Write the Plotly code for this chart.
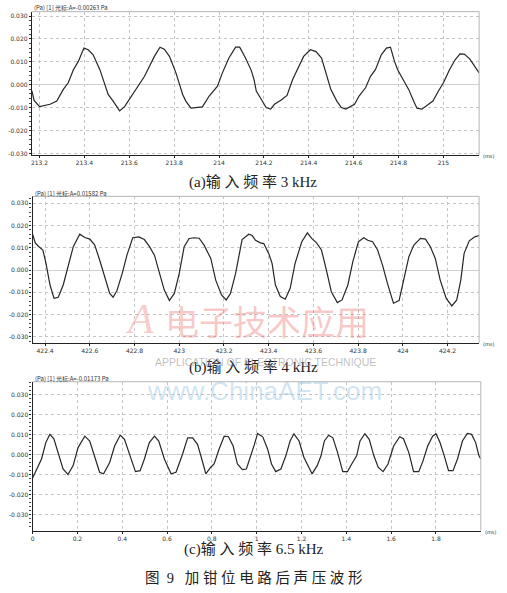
import plotly.graph_objects as go

W, H = 507, 593
NB = "\u00a0"

# ---------------- data (time in ms, sound pressure in Pa) ----------------
ta = [213.166, 213.176, 213.200, 213.247, 213.277, 213.306, 213.328, 213.351, 213.373, 213.398,
      213.417, 213.439, 213.469, 213.491, 213.506, 213.528, 213.557, 213.579, 213.601, 213.631,
      213.668, 213.690, 213.712, 213.737, 213.756, 213.779, 213.808, 213.838, 213.852, 213.875,
      213.926, 213.956, 213.993, 214.015, 214.044, 214.074, 214.092, 214.118, 214.144,
      214.156, 214.166, 214.188, 214.210, 214.230, 214.247, 214.277, 214.303, 214.328, 214.351,
      214.377, 214.407, 214.432, 214.457, 214.476, 214.498, 214.525, 214.545, 214.565, 214.587,
      214.604, 214.624, 214.653, 214.675, 214.697, 214.723, 214.746, 214.764, 214.782, 214.796,
      214.820, 214.845, 214.867, 214.882, 214.904, 214.926, 214.953, 214.978, 215.000, 215.027,
      215.052, 215.074, 215.093, 215.118, 215.140, 215.159]
va = [-0.0026, -0.0068, -0.0095, -0.0085, -0.0071, -0.0020, 0.0009, 0.0066, 0.0102, 0.0160,
      0.0153, 0.0131, 0.0066, 0.0001, -0.0042, -0.0071, -0.0114, -0.0095, -0.0063, -0.0020,
      0.0037, 0.0081, 0.0124, 0.0164, 0.0155, 0.0124, 0.0052, -0.0042, -0.0071, -0.0102,
      -0.0096, -0.0049, -0.0006, 0.0052, 0.0117, 0.0164, 0.0164, 0.0117, 0.0062,
      0.0023, -0.0027, -0.0063, -0.0099, -0.0106, -0.0085, -0.0066, -0.0046, 0.0023, 0.0073,
      0.0124, 0.0153, 0.0145, 0.0117, 0.0052, -0.0020, -0.0071, -0.0099, -0.0106, -0.0095,
      -0.0085, -0.0049, -0.0013, 0.0037, 0.0066, 0.0131, 0.0160, 0.0164, 0.0102, 0.0066,
      0.0026, -0.0020, -0.0071, -0.0102, -0.0106, -0.0089, -0.0071, -0.0027, 0.0009, 0.0066,
      0.0109, 0.0135, 0.0134, 0.0112, 0.0081, 0.0052]

tb = [422.344, 422.356, 422.370, 422.390, 422.404, 422.422, 422.440, 422.459, 422.481, 422.504,
      422.526, 422.555, 422.578, 422.600, 422.622, 422.644, 422.667, 422.689, 422.704, 422.721,
      422.745, 422.766, 422.792, 422.819, 422.844, 422.867, 422.889, 422.911, 422.933, 422.956,
      422.978, 423.000, 423.022, 423.044, 423.067, 423.089, 423.111, 423.141, 423.163, 423.189,
      423.210, 423.229, 423.252, 423.281, 423.311, 423.326, 423.341, 423.363, 423.378, 423.400,
      423.415, 423.430, 423.452, 423.474, 423.496, 423.518, 423.548, 423.573, 423.592, 423.614,
      423.636, 423.658, 423.680, 423.707, 423.728, 423.754, 423.776, 423.801, 423.825, 423.843,
      423.865, 423.887, 423.909, 423.931, 423.958, 423.983, 424.005, 424.027, 424.049, 424.079,
      424.101, 424.123, 424.145, 424.167, 424.194, 424.219, 424.241, 424.259, 424.274, 424.297,
      424.322, 424.341]
vb = [0.0161, 0.0122, 0.0107, 0.0090, 0.0030, -0.0067, -0.0127, -0.0122, -0.0067, 0.0022,
      0.0105, 0.0161, 0.0146, 0.0139, 0.0112, 0.0045, -0.0037, -0.0105, -0.0122, -0.0093,
      -0.0015, 0.0067, 0.0145, 0.0149, 0.0137, 0.0105, 0.0067, -0.0015, -0.0090, -0.0137,
      -0.0105, -0.0015, 0.0105, 0.0142, 0.0145, 0.0143, 0.0112, 0.0052, -0.0045, -0.0112,
      -0.0134, -0.0105, -0.0015, 0.0137, 0.0161, 0.0155, 0.0134, 0.0122, 0.0119, 0.0075,
      0.0030, -0.0067, -0.0119, -0.0131, -0.0082, 0.0030, 0.0127, 0.0167, 0.0142, 0.0122,
      0.0090, 0.0000, -0.0097, -0.0146, -0.0134, -0.0067, 0.0037, 0.0127, 0.0145, 0.0134,
      0.0127, 0.0090, 0.0022, -0.0060, -0.0149, -0.0137, -0.0037, 0.0060, 0.0112, 0.0142,
      0.0139, 0.0105, 0.0052, -0.0045, -0.0127, -0.0161, -0.0134, -0.0045, 0.0075, 0.0131,
      0.0149, 0.0155]

tc = [0.000, 0.018, 0.040, 0.059, 0.077, 0.095, 0.114, 0.136, 0.158, 0.181,
      0.203, 0.233, 0.255, 0.277, 0.299, 0.317, 0.344, 0.366, 0.391, 0.410,
      0.432, 0.459, 0.480, 0.499, 0.521, 0.544, 0.563, 0.588, 0.618, 0.640,
      0.669, 0.692, 0.714, 0.736, 0.755, 0.773, 0.795, 0.810, 0.832, 0.855,
      0.874, 0.895, 0.914, 0.936, 0.954, 0.975, 0.990, 1.004, 1.027, 1.049,
      1.066, 1.085, 1.108, 1.130, 1.149, 1.166, 1.189, 1.211, 1.247, 1.270,
      1.287, 1.302, 1.321, 1.340, 1.361, 1.384, 1.405, 1.424, 1.446, 1.461,
      1.483, 1.502, 1.523, 1.542, 1.564, 1.586, 1.611, 1.638, 1.655, 1.679,
      1.700, 1.723, 1.741, 1.763, 1.785, 1.800, 1.818, 1.837, 1.856, 1.876,
      1.896, 1.918, 1.940, 1.959, 1.977, 1.991, 2.000]
vc = [-0.0116, -0.0071, -0.0021, 0.0061, 0.0102, 0.0080, 0.0011, -0.0071, -0.0098, -0.0054,
      0.0036, 0.0093, 0.0069, -0.0005, -0.0087, -0.0095, -0.0038, 0.0044, 0.0098, 0.0077,
      0.0003, -0.0084, -0.0079, -0.0021, 0.0061, 0.0093, 0.0069, -0.0021, -0.0095, -0.0087,
      0.0003, 0.0085, 0.0085, 0.0052, -0.0021, -0.0095, -0.0062, -0.0046, 0.0028, 0.0093,
      0.0090, 0.0044, -0.0046, -0.0074, -0.0071, -0.0005, 0.0052, 0.0107, 0.0090, 0.0028,
      -0.0046, -0.0084, -0.0071, -0.0005, 0.0069, 0.0105, 0.0069, -0.0013, -0.0095, -0.0054,
      -0.0005, 0.0069, 0.0098, 0.0085, 0.0011, -0.0084, -0.0084, -0.0046, -0.0005, 0.0069,
      0.0105, 0.0077, -0.0005, -0.0062, -0.0084, -0.0046, 0.0044, 0.0090, 0.0080, 0.0011,
      -0.0084, -0.0084, -0.0034, 0.0044, 0.0093, 0.0105, 0.0061, -0.0005, -0.0079, -0.0079,
      -0.0021, 0.0069, 0.0107, 0.0102, 0.0061, -0.0002, -0.0021]

xticks_a = [213.2, 213.4, 213.6, 213.8, 214, 214.2, 214.4, 214.6, 214.8, 215]
xticks_b = [422.4, 422.6, 422.8, 423, 423.2, 423.4, 423.6, 423.8, 424, 424.2]
xticks_c = [0, 0.2, 0.4, 0.6, 0.8, 1, 1.2, 1.4, 1.6, 1.8]
yticks = [0.03, 0.02, 0.01, 0.0, -0.01, -0.02, -0.03]
ytick_text = ["0.030", "0.020", "0.010", "0.000", "-0.010", "-0.020", "-0.030"]

headers = ["(Pa) [1] 光标:A=-0.00263 Pa", "(Pa) [1] 光标:A=0.01582 Pa", "(Pa) [1] 光标:A=-0.01173 Pa"]
captions = ["(a)" + NB.join("输入频率") + NB + "3 kHz",
            "(b)" + NB.join("输入频率") + NB + "4 kHz",
            "(c)" + NB.join("输入频率") + NB + "6.5 kHz"]
title_text = "图" + NB * 2 + "9" + NB * 3 + NB.join("加钳位电路后声压波形")

# ---------------- layout geometry (pixels) ----------------
panels = [
    dict(t=ta, v=va, xt=xticks_a, xr=[213.166, 215.159], yr=[-0.0306, 0.0319],
         px=(30, 479), py=(11.7, 155.5), head_y=7.5, cap_y=183),
    dict(t=tb, v=vb, xt=xticks_b, xr=[422.344, 424.341], yr=[-0.0328, 0.0331],
         px=(30.7, 479), py=(197, 344.3), head_y=194, cap_y=369),
    dict(t=tc, v=vc, xt=xticks_c, xr=[0, 2.0], yr=[-0.0378, 0.0365],
         px=(30.7, 480.7), py=(383, 532.3), head_y=380, cap_y=551),
]

fig = go.Figure()
layout = dict(width=W, height=H, margin=dict(l=0, r=0, t=0, b=0),
              paper_bgcolor="white", plot_bgcolor="white", showlegend=False,
              annotations=[], shapes=[])

tickfont = dict(size=6, color="#333", family="DejaVu Sans")
grid = dict(showgrid=True, gridcolor="#c4c4c4", gridwidth=1, griddash="dot")
capfont = dict(size=15, color="#222", family="Liberation Serif, Noto Sans CJK SC")

for i, p in enumerate(panels):
    n = "" if i == 0 else str(i + 1)
    xa, ya = "x" + n, "y" + n
    fig.add_trace(go.Scatter(x=p["t"], y=p["v"], mode="lines", xaxis=xa, yaxis=ya,
                             line=dict(color="#262626", width=1.2)))
    xd = [p["px"][0] / W, p["px"][1] / W]
    yd = [1 - p["py"][1] / H, 1 - p["py"][0] / H]
    layout["xaxis" + n] = dict(domain=xd, range=p["xr"], anchor=ya, tickmode="array",
                               tickvals=p["xt"], ticktext=[f"{v:g}" for v in p["xt"]],
                               showline=True, linecolor="#222", linewidth=1,
                               ticks="outside", ticklen=2, tickcolor="#222",
                               tickfont=tickfont, zeroline=False, **grid)
    layout["yaxis" + n] = dict(domain=yd, range=p["yr"], anchor=xa, tickmode="array",
                               tickvals=yticks, ticktext=ytick_text,
                               showline=True, linecolor="#222", linewidth=1.2,
                               ticks="outside", ticklen=2, tickcolor="#222",
                               minor=dict(ticks="outside", ticklen=2, dtick=0.002,
                                          tickcolor="#444", showgrid=False),
                               tickfont=tickfont, zeroline=True, zerolinecolor="#cfcfcf",
                               zerolinewidth=1, **grid)
    layout["shapes"].append(dict(type="line", xref=xa + " domain", yref=ya + " domain",
                                 x0=0, x1=1, y0=1, y1=1, line=dict(color="#b5b5b5", width=1)))
    layout["shapes"].append(dict(type="line", xref=xa + " domain", yref=ya + " domain",
                                 x0=1, x1=1, y0=0, y1=1, line=dict(color="#b5b5b5", width=1)))
    layout["annotations"].append(dict(text=headers[i], xref="paper", yref="paper",
                                      x=p["px"][0] / W, y=1 - p["head_y"] / H,
                                      xanchor="left", yanchor="middle", showarrow=False,
                                      font=dict(size=6, color="#333", family="Noto Sans CJK SC")))
    layout["annotations"].append(dict(text="(ms)", xref="paper", yref="paper",
                                      x=(p["px"][1] + 2) / W, y=1 - (p["py"][1] + 1) / H,
                                      xanchor="left", yanchor="middle", showarrow=False,
                                      font=dict(size=5, color="#333", family="DejaVu Sans")))
    layout["annotations"].append(dict(text=captions[i], xref="paper", yref="paper",
                                      x=252 / W, y=1 - p["cap_y"] / H,
                                      xanchor="center", yanchor="middle", showarrow=False,
                                      font=capfont))

layout["annotations"].append(dict(text=title_text, xref="paper", yref="paper",
                                  x=252.5 / W, y=1 - 579 / H, xanchor="center", yanchor="middle",
                                  showarrow=False,
                                  font=dict(size=14.5, color="#222",
                                            family="Liberation Serif, Noto Sans CJK SC")))

# watermark of the source journal
layout["annotations"].append(dict(text="<i>A</i>", xref="paper", yref="paper",
                                  x=138 / W, y=1 - 320 / H, xanchor="center", yanchor="middle",
                                  showarrow=False,
                                  font=dict(size=42, color="rgba(235,110,110,0.35)",
                                            family="Liberation Serif")))
layout["annotations"].append(dict(text="电子技术应用", xref="paper", yref="paper",
                                  x=266 / W, y=1 - 322 / H, xanchor="center", yanchor="middle",
                                  showarrow=False,
                                  font=dict(size=34, color="rgba(235,110,110,0.38)",
                                            family="Noto Sans CJK SC")))
layout["annotations"].append(dict(text="APPLICATION OF ELECTRONIC TECHNIQUE", xref="paper",
                                  yref="paper", x=265 / W, y=1 - 363 / H, xanchor="center",
                                  yanchor="middle", showarrow=False,
                                  font=dict(size=10.5, color="rgba(150,150,150,0.6)",
                                            family="Liberation Sans")))
layout["annotations"].append(dict(text="www.ChinaAET.com", xref="paper", yref="paper",
                                  x=264 / W, y=1 - 392 / H, xanchor="center", yanchor="middle",
                                  showarrow=False,
                                  font=dict(size=26, color="rgba(150,195,225,0.45)",
                                            family="Liberation Sans")))

fig.update_layout(**layout)
fig.write_html("out.html")
